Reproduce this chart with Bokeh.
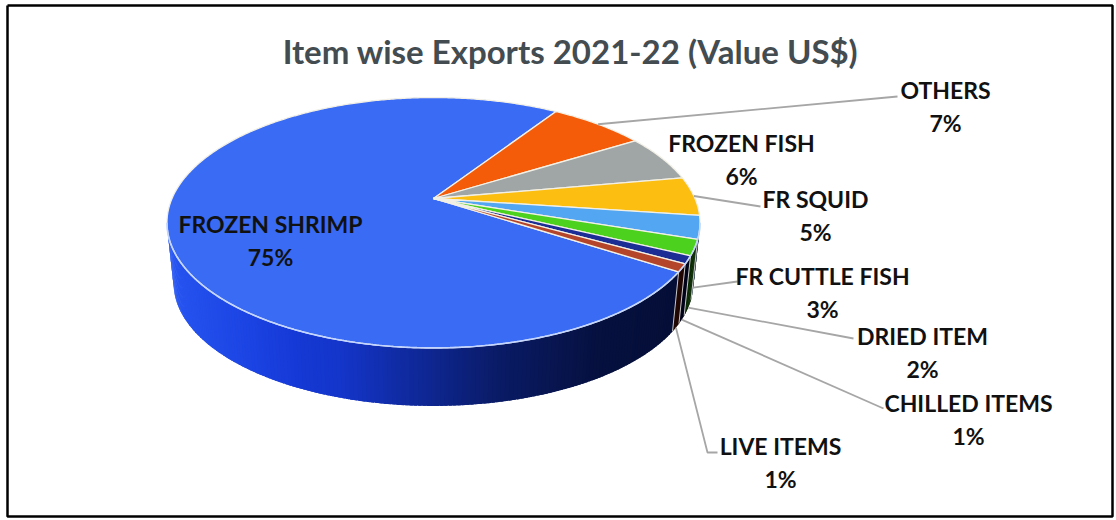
import numpy as np
from bokeh.plotting import figure
from bokeh.models import Range1d, ColumnDataSource
from bokeh.core.properties import value
from bokeh.embed import file_html
from bokeh.resources import INLINE

# ---------------- data ----------------
categories = ["FROZEN SHRIMP", "OTHERS", "FROZEN FISH", "FR SQUID",
              "FR CUTTLE FISH", "DRIED ITEM", "CHILLED ITEMS", "LIVE ITEMS"]
shares = [75, 7, 6, 5, 3, 2, 1, 1]
pct_labels = ["75%", "7%", "6%", "5%", "3%", "2%", "1%", "1%"]
title_text = "Item wise Exports 2021-22 (Value US$)"

# ---------------- style / layout ----------------
colors = ["#3A6BF4", "#F55C0A", "#A0A6A6", "#FDBE12",
          "#52A6F2", "#4CD11E", "#1C2E96", "#B5452A"]
W, H = 1116, 520
CX, CY = 433.0, 198.0        # apex of the pie (screen px)
R, HY, K = 261.5, 120.5, 0.1935   # perspective ellipse
T = 61.0                      # thickness of the pie
SBX, SBY = 0.975, 0.98        # bottom rim slightly smaller
START = -33.0                 # first slice starts here, slices run clockwise

# label layout: centre of the name line; percent goes 33px below
label_pos = [(270, 223), (945, 89), (741, 142), (815, 198),
             (822, 275), (922, 335), (968, 402), (780, 445)]
# leader: anchor on slice ('top' / 'bottom' / None) and path end points
leader_anchor = [None, "top", None, "top", "bottom", "bottom", "bottom", "bottom"]
leader_path = [None, [(897, 96)], None, [(760, 206)], [(737, 281)],
               [(853, 338)], [(883, 408)], [(707, 452), (717, 452)]]


def top_pt(theta_deg):
    t = np.radians(theta_deg)
    u, v = np.cos(t), np.sin(t)
    d = 1 + K * v
    return CX + R * u / d, CY - HY * v / d


def bot_pt(theta_deg):
    x, y = top_pt(theta_deg)
    return CX + SBX * (x - CX), CY + T + SBY * (y - CY)


total = float(sum(shares))
cum = np.concatenate([[0.0], np.cumsum(shares)]) / total
starts = [START - 360.0 * cum[i] for i in range(len(shares))]
ends = [START - 360.0 * cum[i + 1] for i in range(len(shares))]
mids = [(a + b) / 2 for a, b in zip(starts, ends)]


def slice_of(theta):
    frac = ((START - theta) % 360.0) / 360.0
    idx = np.searchsorted(cum, frac, side="right") - 1
    return int(min(max(idx, 0), len(shares) - 1))


def shade(hexcol, x):
    f = np.interp(x, [167, 250, 340, 420, 500, 600, 700],
                  [1.0, 0.95, 0.85, 0.64, 0.43, 0.27, 0.22])
    g = np.interp(x, [167, 300], [1.25, 1.6])
    rgb = [int(hexcol[i:i + 2], 16) / 255.0 for i in (1, 3, 5)]
    out = [int(min(255, 255 * (c ** g) * f)) for c in rgb]
    return "#%02x%02x%02x" % tuple(out)


p = figure(width=W, height=H, x_range=Range1d(0, W), y_range=Range1d(H, 0),
           output_backend="svg", toolbar_location=None, min_border=0,
           x_axis_type=None, y_axis_type=None)
p.grid.visible = False
p.outline_line_color = None
p.background_fill_color = "white"
p.border_fill_color = "white"

# ---------------- side of the pie ----------------
th_l = 180.0 + np.degrees(np.arcsin(K))
th_r = 360.0 - np.degrees(np.arcsin(K))
brk = list(np.linspace(th_l, th_r, 200))
bounds_vis = []
for a in starts:
    a_n = a % 360.0
    if th_l < a_n < th_r:
        brk.append(a_n)
        bounds_vis.append(a_n)
brk = sorted(brk)
sx, sy, sc = [], [], []
for j, (a, b) in enumerate(zip(brk[:-1], brk[1:])):
    if b - a < 1e-6:
        continue
    m = (a + b) / 2
    i = slice_of(m)
    b_ext = min(b + 0.6, th_r) if j < len(brk) - 2 else b   # overlap to hide seams
    x1, y1 = top_pt(a)
    x2, y2 = top_pt(b_ext)
    x3, y3 = bot_pt(b_ext)
    x4, y4 = bot_pt(a)
    sx.append([x1, x2, x3, x4])
    sy.append([y1, y2, y3, y4])
    sc.append(shade(colors[i], (x1 + x2) / 2))
p.patches(xs=sx, ys=sy, fill_color=sc, line_color=None)

# boundaries on the side
for a in bounds_vis:
    x1, y1 = top_pt(a)
    x2, y2 = bot_pt(a)
    p.line([x1, x2], [y1, y2], line_color="#C8C8C8", line_width=1.0)

# ---------------- top of the pie ----------------
tx, ty = [], []
for a, b in zip(starts, ends):
    n = max(4, int(abs(a - b) * 2))
    angs = np.linspace(a, b, n)
    xs = [CX] + [top_pt(t)[0] for t in angs]
    ys = [CY] + [top_pt(t)[1] for t in angs]
    tx.append(xs)
    ty.append(ys)
p.patches(xs=tx, ys=ty, fill_color=colors, line_color="#F2F0E6", line_width=1.3)

# light rim along the front edge of the top
fa = np.linspace(th_l, th_r, 300)
p.line([top_pt(t)[0] for t in fa], [top_pt(t)[1] for t in fa],
       line_color="#C4D6FF", line_width=1.6)

# ---------------- leader lines ----------------
lx, ly = [], []
for i, anc in enumerate(leader_anchor):
    if anc is None:
        continue
    x0, y0 = top_pt(mids[i]) if anc == "top" else bot_pt(mids[i])
    pts = [(x0, y0)] + leader_path[i]
    lx.append([q[0] for q in pts])
    ly.append([q[1] for q in pts])
p.multi_line(xs=lx, ys=ly, line_color="#A6A6A6", line_width=1.8)

# ---------------- labels ----------------
src = ColumnDataSource(dict(
    x=[q[0] for q in label_pos] + [q[0] for q in label_pos],
    y=[q[1] for q in label_pos] + [q[1] + 33 for q in label_pos],
    t=categories + pct_labels))
p.text(x="x", y="y", text="t", source=src, text_font=value("Lato"),
       text_font_style="bold", text_font_size="23px", text_align="center",
       text_baseline="middle", text_color="#111111")

# title
p.text(x=[570], y=[50], text=[title_text], text_font=value("Lato"),
       text_font_style="bold", text_font_size="33px", text_align="center",
       text_baseline="middle", text_color="#434C50")

# chart frame
p.line([7, 1112, 1112, 7, 7], [5, 5, 516, 516, 5], line_color="black", line_width=2.5)

open("out.html", "w").write(file_html(p, INLINE))
